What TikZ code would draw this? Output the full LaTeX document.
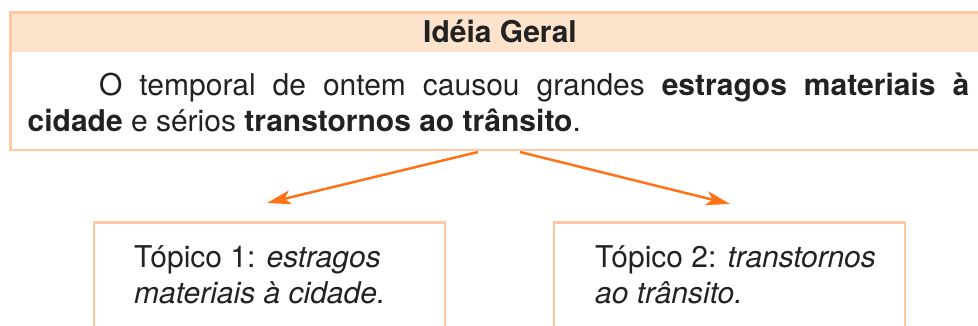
\documentclass[tikz,border=0pt]{standalone}
\usepackage{fontspec}
\setmainfont{TeX Gyre Heros}
\usetikzlibrary{positioning,arrows.meta}
\usepackage{xcolor}
\definecolor{borda}{RGB}{255,200,162}
\definecolor{faixa}{RGB}{253,226,204}
\definecolor{laranja}{RGB}{255,115,22}
\definecolor{tinta}{RGB}{34,34,34}

\begin{document}
\begin{tikzpicture}[x=1pt, y=-1pt,
  caixa/.style={draw=borda, line width=2.5pt, inner sep=0pt, outer sep=0pt, anchor=north west},
  texto/.style={text=tinta, font=\fontsize{30}{36}\selectfont, inner sep=0pt},
  ligacao/.style={draw=laranja, line width=2.5pt, -{Stealth[length=24pt, width=14pt, inset=6pt]}}]
  \clip (0,0) rectangle (978,326);
  \node[fill=faixa, inner sep=0pt, outer sep=0pt, minimum width=979pt, minimum height=39.5pt, anchor=north west] (cabeca) at (10.5,12.5) {};
  \node[caixa, minimum width=979pt, minimum height=137.5pt] (quadro) at (10.5,12.5) {};
  \node[texto, font=\fontsize{30}{36}\selectfont\bfseries, anchor=base] (titulo) at (500,43) {Idéia Geral};
  \node[texto, anchor=north west, text width=941.5pt, align=justify] (frase) at (27.5,69.8)
    {\strut\hspace*{71.5pt}O temporal de ontem causou grandes \textbf{estragos materiais à}\linebreak
     \textbf{cidade} e sérios \textbf{transtornos ao trânsito}.};

  \node[caixa, minimum width=351pt, minimum height=150pt] (topico1) at (94,222.5) {};
  \node[caixa, minimum width=351pt, minimum height=150pt] (topico2) at (554,222.5) {};
  \node[texto, align=left, below right=19.3pt and 40pt of topico1.north west] (rotulo1)
    {\strut Tópico 1: \textit{estragos}\\\textit{materiais à cidade.}};
  \node[texto, align=left, below right=19.3pt and 41pt of topico2.north west] (rotulo2)
    {\strut Tópico 2: \textit{transtornos}\\\textit{ao trânsito.}};

  \draw[ligacao] ([shift={(-22,2)}]quadro.south) -- ([shift={(-2.5,-19.5)}]topico1.north);
  \draw[ligacao] ([shift={(20,2)}]quadro.south) -- ([shift={(0.5,-18.5)}]topico2.north);
\end{tikzpicture}
\end{document}
